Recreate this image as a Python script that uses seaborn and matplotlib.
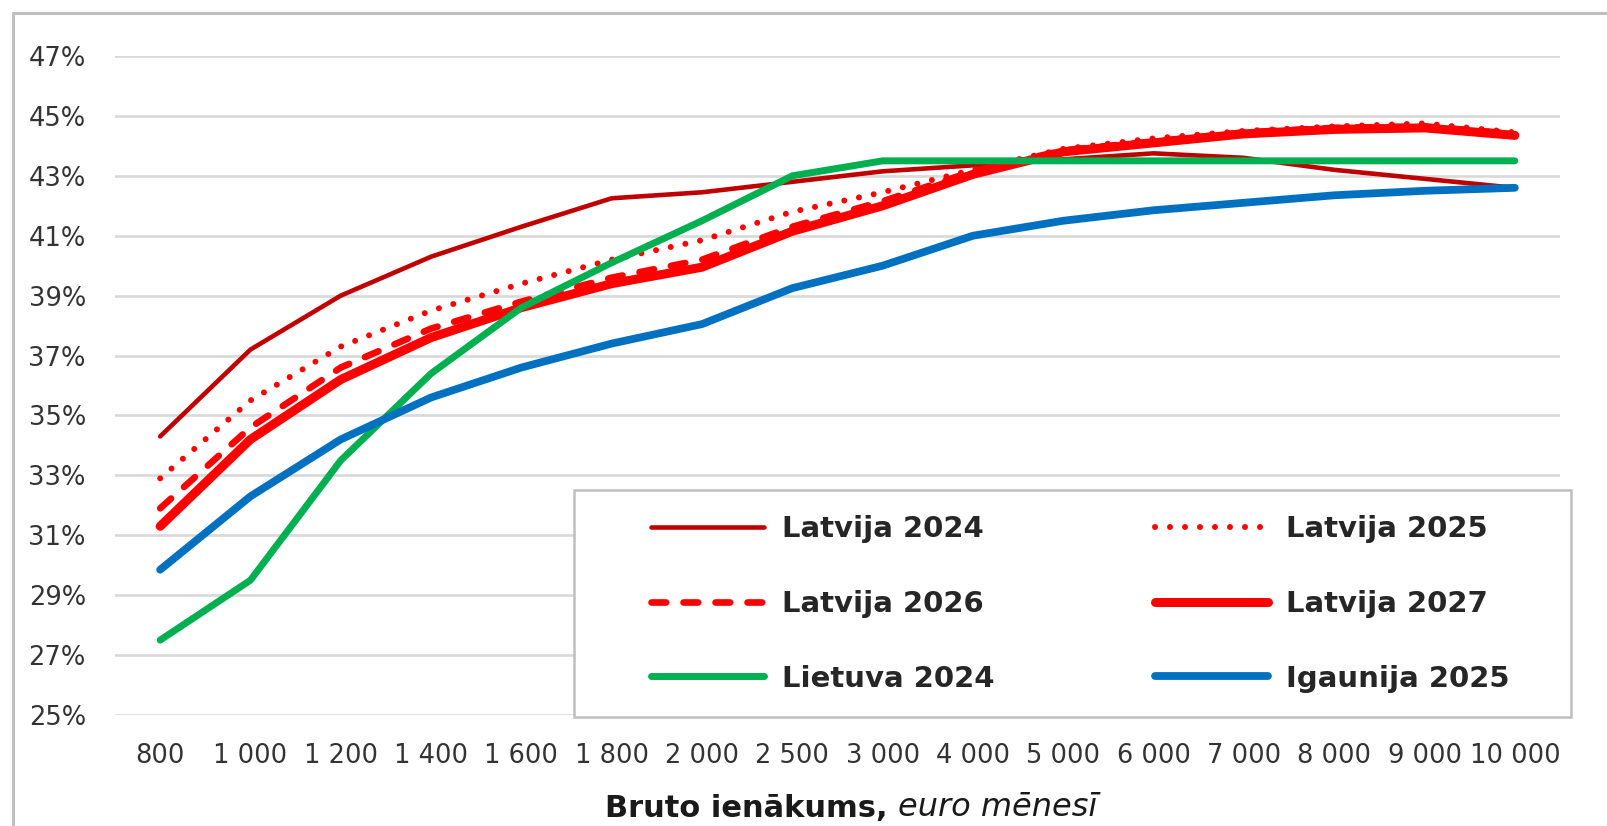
import pandas as pd
import matplotlib.pyplot as plt
import seaborn as sns
from matplotlib.patches import Rectangle
from matplotlib.lines import Line2D

# Ienākumu kategorijas (x ass)
incomes = ["800", "1 000", "1 200", "1 400", "1 600", "1 800", "2 000", "2 500",
           "3 000", "4 000", "5 000", "6 000", "7 000", "8 000", "9 000", "10 000"]

# Efektīvā nodokļu likme, %
latvija_2024 = [34.3, 37.2, 39.0, 40.3, 41.3, 42.25, 42.45, 42.8, 43.15, 43.35, 43.55, 43.75, 43.6, 43.2, 42.9, 42.6]
latvija_2025 = [32.9, 35.5, 37.3, 38.5, 39.4, 40.2, 40.85, 41.8, 42.45, 43.2, 43.9, 44.25, 44.5, 44.65, 44.75, 44.45]
latvija_2026 = [31.9, 34.6, 36.6, 37.9, 38.8, 39.6, 40.2, 41.3, 42.15, 43.15, 43.85, 44.15, 44.45, 44.6, 44.65, 44.4]
latvija_2027 = [31.3, 34.2, 36.2, 37.6, 38.6, 39.4, 39.95, 41.15, 42.0, 43.05, 43.8, 44.1, 44.4, 44.55, 44.6, 44.35]
lietuva_2024 = [27.5, 29.5, 33.5, 36.4, 38.6, 40.1, 41.5, 43.0, 43.5, 43.5, 43.5, 43.5, 43.5, 43.5, 43.5, 43.5]
igaunija_2025 = [29.85, 32.3, 34.2, 35.6, 36.6, 37.4, 38.05, 39.25, 40.0, 41.0, 41.5, 41.85, 42.1, 42.35, 42.5, 42.6]

y_ticks = [25, 27, 29, 31, 33, 35, 37, 39, 41, 43, 45, 47]

series = [
    ("Latvija 2024", latvija_2024, "#C00000", 3.3, "-"),
    ("Latvija 2025", latvija_2025, "#FF0000", 4.3, (0, (0.01, 2.5))),
    ("Latvija 2026", latvija_2026, "#FF0000", 4.8, (0, (2.2, 2.6))),
    ("Latvija 2027", latvija_2027, "#FF0000", 6.5, "-"),
    ("Lietuva 2024", lietuva_2024, "#00B050", 5.0, "-"),
    ("Igaunija 2025", igaunija_2025, "#0070C0", 5.6, "-"),
]

sns.set_theme(style="white")
plt.rcParams['font.family'] = ['DejaVu Sans']

fig = plt.figure(figsize=(16.07, 8.26), dpi=100)
W, H = 1607, 826
ax = fig.add_axes([115 / W, 1 - 715 / H, 1445 / W, 659 / H])

for name, vals, color, lw, ls in series:
    df = pd.DataFrame({"income": incomes, "rate": vals})
    sns.lineplot(data=df, x="income", y="rate", ax=ax, color=color, linewidth=lw,
                 linestyle=ls, sort=False, errorbar=None, label=name)
    line = ax.lines[-1]
    line.set_solid_capstyle("round")
    line.set_dash_capstyle("round")

ax.set_xlim(-0.5, len(incomes) - 0.5)
ax.set_ylim(25, 47)
ax.set_yticks(y_ticks)
ax.set_yticklabels([f"{t}%" for t in y_ticks])
ax.grid(axis="y", color="#D9D9D9", linewidth=1.9)
ax.grid(axis="x", visible=False)
ax.set_axisbelow(True)
for s in ax.spines.values():
    s.set_visible(False)
ax.tick_params(axis="both", length=0, labelsize=18.5, colors="#333333")
ax.tick_params(axis="y", pad=21)
ax.tick_params(axis="x", pad=20)
ax.set_xlabel("")
ax.set_ylabel("")

# Leģendas rāmis
x0, x1 = (574 - 115) / 1445, (1571 - 115) / 1445
y0, y1 = (715 - 717) / 659, (715 - 490) / 659
ax.add_patch(Rectangle((x0, y0), x1 - x0, y1 - y0, transform=ax.transAxes,
                       facecolor="white", edgecolor="#BFBFBF", linewidth=1.8,
                       clip_on=False, zorder=3))

# leģenda pa rindām: matplotlib aizpilda pa kolonnām, tāpēc pārkārto
handles, labels = ax.get_legend_handles_labels()
order = [0, 2, 4, 1, 3, 5]
leg = ax.legend([handles[i] for i in order], [labels[i] for i in order],
                loc="center", bbox_to_anchor=((1080 - 115) / 1445, (715 - 604) / 659),
                ncol=2, frameon=False, handlelength=3.9, handletextpad=0.6,
                columnspacing=5.5, labelspacing=1.6, borderpad=0,
                prop={"weight": "bold", "size": 21})
leg.set_zorder(5)
for h in leg.get_lines():
    h.set_solid_capstyle("round")
    h.set_dash_capstyle("round")

# Ass nosaukums: treknraksts + kursīvs
t1 = fig.text(605 / W, 1 - 817 / H, "Bruto ienākums, ", fontsize=22, weight="bold",
              color="#1a1a1a", va="baseline", ha="left")
ax.annotate("euro mēnesī", xy=(1, 0), xycoords=t1, va="bottom", ha="left",
            fontsize=23, style="italic", color="#1a1a1a", annotation_clip=False)

# Diagrammas apmale
fig.add_artist(Line2D([13 / W, 13 / W], [0, 1 - 13 / H], color="#BFBFBF", linewidth=2.2))
fig.add_artist(Line2D([13 / W, 1], [1 - 13 / H, 1 - 13 / H], color="#BFBFBF", linewidth=2.2))

fig.savefig("out.png", dpi=100, facecolor="white")
plt.close(fig)
